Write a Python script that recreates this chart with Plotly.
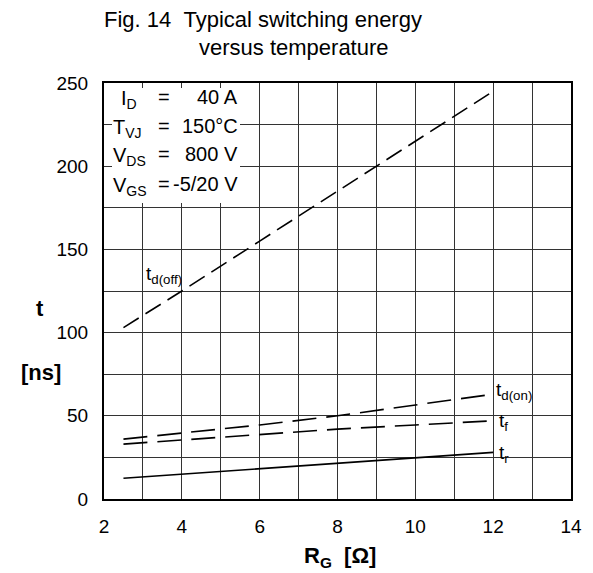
import plotly.graph_objects as go

# Data
rg = [2.5, 4, 6, 8, 10, 12]
t_d_off = [103, 125, 155, 185, 215, 245]
t_d_on = [36, 39.5, 44.5, 50, 56.5, 63]
t_f = [33, 35.5, 39, 42, 44.5, 47]
t_r = [12.5, 15, 18.3, 21.5, 24.7, 28]

x_ticks = [2, 4, 6, 8, 10, 12, 14]
y_ticks = [0, 50, 100, 150, 200, 250]

FONT = "Liberation Sans, Arial, Helvetica, sans-serif"

# Plot area pixel geometry
L, R, T, B = 104, 22, 83, 74
W, H = 593, 573
PW = W - L - R
PH = H - T - B


def px_x(px):
    return 2 + (px - L) / PW * 12


def px_y(py):
    return (H - B - py) / PH * 250


def paper_x(px):
    return (px - L) / PW


def paper_y(py):
    return (H - B - py) / PH


fig = go.Figure()

line_style = dict(color="black", width=1.6)
fig.add_trace(go.Scatter(x=rg, y=t_d_off, mode="lines",
                         line=dict(**line_style, dash="18px,8px")))
fig.add_trace(go.Scatter(x=rg, y=t_d_on, mode="lines",
                         line=dict(**line_style, dash="24px,10px")))
fig.add_trace(go.Scatter(x=rg, y=t_f, mode="lines",
                         line=dict(**line_style, dash="24px,10px")))
fig.add_trace(go.Scatter(x=rg, y=t_r, mode="lines",
                         line=dict(**line_style)))

# White box behind the condition text
fig.add_shape(type="rect", xref="x", yref="y",
              x0=px_x(112), x1=px_x(240), y0=px_y(203), y1=px_y(88),
              fillcolor="white", line=dict(width=0), layer="above")

annotations = []
TF = 22
# Title
annotations.append(dict(text="Fig. 14\u00a0\u00a0Typical switching energy", xref="paper", yref="paper",
                        x=paper_x(102), y=paper_y(20), xanchor="left", yanchor="middle",
                        showarrow=False, font=dict(size=TF, family=FONT, color="black")))
annotations.append(dict(text="versus temperature", xref="paper", yref="paper",
                        x=paper_x(197), y=paper_y(47), xanchor="left", yanchor="middle",
                        showarrow=False, font=dict(size=TF, family=FONT, color="black")))

# Conditions
CF = 20
rows = [
    ("I<sub>D</sub>", 119, "40 A", 99),
    ("T<sub>VJ</sub>", 111, "150°C", 128),
    ("V<sub>DS</sub>", 111, "800 V", 156),
    ("V<sub>GS</sub>", 111, "-5/20 V", 186),
]
for lab, lx, val, py in rows:
    annotations.append(dict(text=lab, x=px_x(lx), y=px_y(py), xanchor="left", yanchor="middle",
                            showarrow=False, font=dict(size=CF, family=FONT, color="black")))
    annotations.append(dict(text="=", x=px_x(164), y=px_y(py - 2), xanchor="center", yanchor="middle",
                            showarrow=False, font=dict(size=CF, family=FONT, color="black")))
    annotations.append(dict(text=val, x=px_x(240), y=px_y(py - 2), xanchor="right", yanchor="middle",
                            showarrow=False, font=dict(size=CF, family=FONT, color="black")))

# Curve labels
curve_labels = [
    ("t<sub>d(off)</sub>", 144, 275),
    ("t<sub>d(on)</sub>", 494, 391),
    ("t<sub>f</sub>", 497, 422),
    ("t<sub>r</sub>", 497, 454),
]
for lab, lx, py in curve_labels:
    annotations.append(dict(text=lab, x=px_x(lx), y=px_y(py), xanchor="left", yanchor="middle",
                            showarrow=False, font=dict(size=19, family=FONT, color="black")))

# Axis titles
AF = 22
annotations.append(dict(text="<b>t</b>", xref="paper", yref="paper", x=paper_x(40), y=paper_y(308),
                        xanchor="center", yanchor="middle", showarrow=False,
                        font=dict(size=AF, family=FONT, color="black")))
annotations.append(dict(text="<b>[ns]</b>", xref="paper", yref="paper", x=paper_x(41), y=paper_y(372),
                        xanchor="center", yanchor="middle", showarrow=False,
                        font=dict(size=AF, family=FONT, color="black")))
annotations.append(dict(text="<b>R<sub>G</sub>\u00a0\u00a0[Ω]</b>", xref="paper", yref="paper",
                        x=paper_x(340), y=paper_y(557), xanchor="center", yanchor="middle",
                        showarrow=False, font=dict(size=AF, family=FONT, color="black")))

grid_color = "#333333"
fig.update_layout(
    width=W, height=H,
    margin=dict(l=L, r=R, t=T, b=B, pad=0),
    paper_bgcolor="white", plot_bgcolor="white",
    showlegend=False,
    font=dict(family=FONT, size=19, color="black"),
    annotations=annotations,
    xaxis=dict(range=[2, 14], tickvals=x_ticks, ticktext=[str(v) for v in x_ticks],
               showgrid=True, gridcolor=grid_color, gridwidth=1,
               minor=dict(dtick=1, showgrid=True, gridcolor=grid_color, gridwidth=1),
               showline=True, linecolor="black", linewidth=2, mirror=True,
               ticks="", zeroline=False, ticklabelstandoff=9,
               tickfont=dict(size=19, family=FONT, color="black")),
    yaxis=dict(range=[0, 250], tickvals=y_ticks, ticktext=[str(v) for v in y_ticks],
               showgrid=True, gridcolor=grid_color, gridwidth=1,
               minor=dict(dtick=25, showgrid=True, gridcolor=grid_color, gridwidth=1),
               showline=True, linecolor="black", linewidth=2, mirror=True,
               ticks="", zeroline=False, ticklabelstandoff=10,
               tickfont=dict(size=19, family=FONT, color="black")),
)

fig.write_html("out.html")
